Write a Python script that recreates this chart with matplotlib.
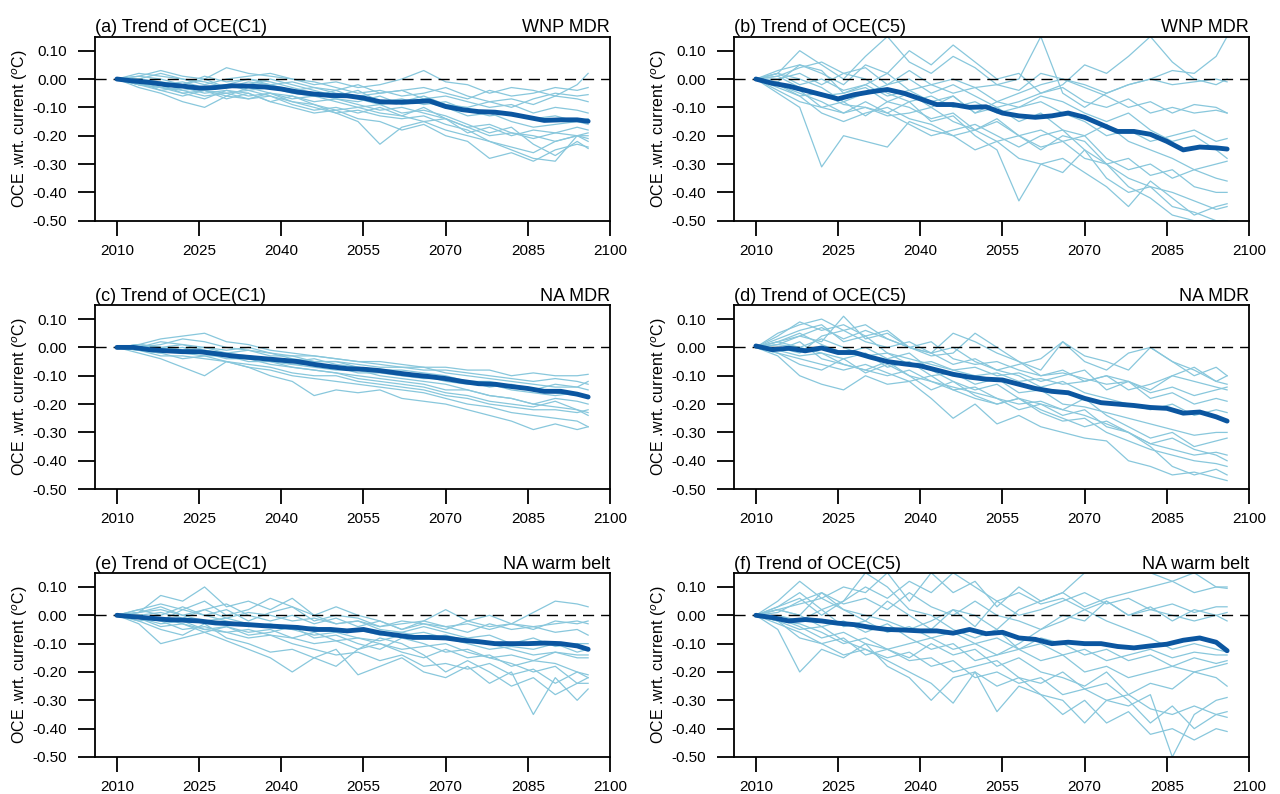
import matplotlib
matplotlib.use("Agg")
import matplotlib.pyplot as plt

plt.rcParams["font.family"] = ["Liberation Sans", "DejaVu Sans"]
plt.rcParams["mathtext.fontset"] = "custom"
plt.rcParams["mathtext.rm"] = "Liberation Sans"

THIN_COLOR = "#88c7dc"
MEAN_COLOR = "#0b56a0"

YEARS_MEAN = [2010, 2013, 2016, 2019, 2022, 2025, 2028, 2031, 2034, 2037, 2040, 2043,
              2046, 2049, 2052, 2055, 2058, 2061, 2064, 2067, 2070, 2073, 2076, 2079,
              2082, 2085, 2088, 2091, 2094, 2096]
YEARS_MEMBER = [2010, 2014, 2018, 2022, 2026, 2030, 2034, 2038, 2042, 2046, 2050, 2054,
                2058, 2062, 2066, 2070, 2074, 2078, 2082, 2086, 2090, 2094, 2096]

# ensemble means (thick line)
MEAN_A = [0.0, -0.007, -0.012, -0.02, -0.025, -0.032, -0.03, -0.024, -0.025, -0.028, -0.035, -0.046,
          -0.053, -0.058, -0.059, -0.067, -0.08, -0.082, -0.08, -0.077, -0.097, -0.108, -0.115, -0.117,
          -0.124, -0.135, -0.146, -0.144, -0.144, -0.149]
MEAN_B = [0.0, -0.015, -0.025, -0.04, -0.055, -0.07, -0.055, -0.045, -0.037, -0.05, -0.07, -0.09,
          -0.09, -0.1, -0.098, -0.12, -0.13, -0.135, -0.13, -0.12, -0.135, -0.16, -0.185, -0.185,
          -0.195, -0.22, -0.25, -0.24, -0.243, -0.247]
MEAN_C = [0.0, 0.0, -0.008, -0.012, -0.015, -0.015, -0.022, -0.03, -0.035, -0.04, -0.045, -0.05,
          -0.06, -0.068, -0.075, -0.077, -0.082, -0.09, -0.097, -0.103, -0.11, -0.12, -0.128, -0.13,
          -0.138, -0.145, -0.155, -0.155, -0.165, -0.175]
MEAN_D = [0.005, -0.008, -0.003, -0.012, -0.002, -0.018, -0.018, -0.035, -0.05, -0.058, -0.065, -0.08,
          -0.095, -0.105, -0.112, -0.115, -0.13, -0.145, -0.155, -0.16, -0.18, -0.195, -0.2, -0.205,
          -0.212, -0.215, -0.232, -0.228, -0.245, -0.26]
MEAN_E = [0.0, -0.005, -0.01, -0.015, -0.017, -0.02, -0.027, -0.03, -0.033, -0.037, -0.04, -0.043,
          -0.05, -0.05, -0.055, -0.05, -0.062, -0.07, -0.078, -0.078, -0.08, -0.088, -0.093, -0.1,
          -0.1, -0.1, -0.098, -0.1, -0.108, -0.12]
MEAN_F = [0.0, -0.008, -0.02, -0.015, -0.02, -0.028, -0.033, -0.043, -0.05, -0.052, -0.055, -0.055,
          -0.063, -0.05, -0.065, -0.06, -0.08, -0.085, -0.1, -0.095, -0.1, -0.1, -0.11, -0.115,
          -0.108, -0.102, -0.088, -0.08, -0.095, -0.125]

# individual members (thin lines)
MEMBERS_A = [
    [0, 0.01, 0.03, 0.01, 0.0, 0.04, 0.02, 0.01, 0.0, -0.02, -0.01, -0.03, -0.02, 0.0, 0.03, -0.01, -0.02, -0.05, -0.03, -0.04, -0.06, -0.02, 0.02],
    [0, -0.02, -0.04, -0.06, -0.04, -0.07, -0.05, -0.08, -0.1, -0.12, -0.11, -0.14, -0.15, -0.18, -0.16, -0.2, -0.22, -0.28, -0.26, -0.29, -0.25, -0.23, -0.24],
    [0, 0.0, -0.02, -0.01, -0.03, -0.02, -0.04, -0.03, -0.05, -0.06, -0.04, -0.07, -0.09, -0.08, -0.06, -0.09, -0.1, -0.08, -0.1, -0.07, -0.05, -0.06, -0.055],
    [0, -0.03, -0.05, -0.08, -0.1, -0.06, -0.07, -0.05, -0.08, -0.1, -0.12, -0.15, -0.23, -0.17, -0.15, -0.18, -0.2, -0.22, -0.24, -0.26, -0.22, -0.2, -0.22],
    [0, 0.01, 0.0, -0.02, 0.01, -0.01, 0.0, -0.02, -0.01, -0.03, -0.04, -0.02, -0.05, -0.04, -0.03, -0.05, -0.07, -0.04, -0.06, -0.05, -0.03, -0.04, -0.03],
    [0, -0.01, -0.03, -0.04, -0.06, -0.05, -0.04, -0.06, -0.08, -0.09, -0.11, -0.1, -0.12, -0.13, -0.1, -0.14, -0.17, -0.2, -0.19, -0.21, -0.19, -0.2, -0.21],
    [0, -0.02, -0.01, -0.04, -0.03, -0.02, 0.0, -0.01, -0.03, -0.05, -0.07, -0.08, -0.06, -0.09, -0.08, -0.1, -0.13, -0.12, -0.15, -0.17, -0.16, -0.15, -0.16],
    [0, -0.01, -0.04, -0.03, -0.05, -0.04, -0.06, -0.05, -0.07, -0.06, -0.08, -0.1, -0.09, -0.12, -0.11, -0.13, -0.16, -0.19, -0.17, -0.23, -0.27, -0.22, -0.245],
    [0, 0.0, -0.01, -0.02, 0.0, -0.03, -0.01, -0.02, -0.04, -0.03, -0.05, -0.06, -0.05, -0.04, -0.07, -0.06, -0.08, -0.1, -0.09, -0.12, -0.1, -0.11, -0.12],
    [0, -0.02, -0.03, -0.05, -0.04, -0.06, -0.03, -0.05, -0.06, -0.08, -0.07, -0.09, -0.11, -0.1, -0.12, -0.14, -0.19, -0.17, -0.2, -0.18, -0.19, -0.17, -0.18],
    [0, 0.02, 0.01, 0.0, -0.02, 0.0, 0.01, 0.02, 0.0, -0.01, -0.03, -0.05, -0.04, -0.06, -0.05, -0.03, -0.06, -0.08, -0.07, -0.09, -0.06, -0.07, -0.08],
    [0, -0.01, -0.02, -0.05, -0.07, -0.04, -0.05, -0.08, -0.06, -0.09, -0.12, -0.11, -0.13, -0.14, -0.13, -0.16, -0.18, -0.22, -0.25, -0.28, -0.29, -0.2, -0.19],
    [0, 0.0, 0.02, 0.0, -0.01, -0.03, -0.02, 0.0, -0.02, -0.04, -0.06, -0.04, -0.08, -0.07, -0.09, -0.08, -0.11, -0.13, -0.12, -0.14, -0.13, -0.15, -0.14],
    [0, -0.02, -0.03, -0.02, -0.04, -0.05, -0.07, -0.06, -0.09, -0.11, -0.1, -0.12, -0.1, -0.13, -0.15, -0.14, -0.17, -0.16, -0.19, -0.2, -0.22, -0.2, -0.2],
]
MEMBERS_B = [
    [0, 0.02, 0.1, 0.05, 0.0, 0.08, 0.15, 0.06, 0.02, 0.08, 0.04, -0.02, 0.0, 0.15, -0.05, -0.1, -0.05, -0.02, 0.0, 0.03, 0.02, 0.08, 0.15],
    [0, -0.05, -0.1, -0.31, -0.2, -0.22, -0.24, -0.15, -0.18, -0.2, -0.25, -0.22, -0.28, -0.3, -0.33, -0.25, -0.35, -0.4, -0.38, -0.45, -0.47, -0.5, -0.5],
    [0, 0.03, 0.05, 0.02, -0.02, 0.05, 0.02, 0.1, 0.05, 0.12, 0.06, 0.0, 0.02, -0.05, -0.02, 0.05, 0.02, 0.08, 0.15, 0.06, 0.0, -0.02, 0.0],
    [0, -0.02, -0.05, -0.08, -0.12, -0.1, -0.12, -0.08, -0.15, -0.13, -0.2, -0.25, -0.43, -0.3, -0.28, -0.33, -0.38, -0.45, -0.36, -0.42, -0.48, -0.45, -0.44],
    [0, -0.01, 0.05, 0.03, -0.05, -0.03, -0.08, -0.05, -0.1, -0.06, -0.12, -0.08, -0.05, -0.02, 0.0, -0.03, -0.06, -0.1, -0.08, -0.12, -0.09, -0.1, -0.12],
    [0, -0.03, -0.06, -0.12, -0.15, -0.12, -0.1, -0.14, -0.16, -0.2, -0.18, -0.22, -0.2, -0.24, -0.22, -0.28, -0.3, -0.35, -0.38, -0.4, -0.43, -0.46, -0.45],
    [0, 0.01, -0.03, -0.06, -0.05, -0.02, 0.02, -0.04, -0.08, -0.06, -0.12, -0.1, -0.15, -0.12, -0.18, -0.2, -0.16, -0.22, -0.25, -0.28, -0.32, -0.35, -0.36],
    [0, 0.02, 0.0, -0.03, -0.08, -0.05, -0.02, 0.03, -0.02, -0.05, -0.03, -0.08, -0.1, -0.06, -0.08, -0.12, -0.15, -0.12, -0.18, -0.22, -0.2, -0.25, -0.28],
    [0, -0.02, -0.04, -0.1, -0.08, -0.13, -0.08, -0.1, -0.14, -0.12, -0.18, -0.15, -0.2, -0.25, -0.2, -0.22, -0.3, -0.28, -0.34, -0.32, -0.38, -0.4, -0.4],
    [0, 0.0, 0.02, -0.02, 0.02, 0.0, -0.05, -0.08, -0.06, -0.1, -0.08, -0.12, -0.1, -0.08, -0.12, -0.15, -0.2, -0.18, -0.22, -0.2, -0.18, -0.22, -0.21],
    [0, -0.04, -0.08, -0.1, -0.12, -0.08, -0.12, -0.16, -0.2, -0.18, -0.16, -0.2, -0.24, -0.2, -0.18, -0.25, -0.3, -0.38, -0.42, -0.48, -0.5, -0.5, -0.5],
    [0, 0.01, 0.04, 0.06, 0.02, 0.04, -0.02, 0.0, -0.05, -0.02, -0.06, -0.1, -0.08, -0.05, -0.03, -0.08, -0.1, -0.07, -0.12, -0.1, -0.12, -0.11, -0.12],
    [0, -0.02, -0.06, -0.05, -0.09, -0.1, -0.13, -0.12, -0.1, -0.15, -0.18, -0.14, -0.2, -0.18, -0.22, -0.2, -0.28, -0.32, -0.3, -0.35, -0.32, -0.3, -0.29],
    [0, 0.02, -0.02, 0.0, -0.04, -0.02, -0.06, -0.04, -0.02, 0.0, -0.03, -0.02, -0.04, 0.02, 0.0, -0.02, -0.05, -0.02, 0.0, -0.02, -0.01, 0.0, -0.01],
]
MEMBERS_C = [
    [0, 0.01, 0.03, 0.04, 0.05, 0.02, 0.01, -0.01, -0.02, -0.03, -0.04, -0.05, -0.05, -0.06, -0.07, -0.07, -0.08, -0.08, -0.1, -0.09, -0.1, -0.1, -0.095],
    [0, -0.02, -0.04, -0.07, -0.1, -0.05, -0.07, -0.1, -0.12, -0.17, -0.15, -0.16, -0.15, -0.18, -0.19, -0.2, -0.22, -0.24, -0.26, -0.29, -0.27, -0.29, -0.28],
    [0, 0.0, -0.01, 0.0, -0.02, -0.03, -0.03, -0.05, -0.06, -0.07, -0.08, -0.08, -0.1, -0.11, -0.12, -0.13, -0.15, -0.17, -0.18, -0.2, -0.21, -0.22, -0.24],
    [0, 0.01, 0.0, 0.01, -0.01, -0.02, -0.01, -0.03, -0.03, -0.05, -0.05, -0.06, -0.07, -0.07, -0.08, -0.08, -0.09, -0.1, -0.11, -0.12, -0.11, -0.12, -0.13],
    [0, -0.01, -0.03, -0.03, -0.04, -0.05, -0.06, -0.07, -0.09, -0.1, -0.1, -0.12, -0.13, -0.14, -0.15, -0.17, -0.18, -0.2, -0.21, -0.22, -0.22, -0.23, -0.22],
    [0, 0.0, 0.02, 0.01, 0.0, -0.01, 0.0, -0.02, -0.03, -0.03, -0.04, -0.05, -0.06, -0.07, -0.07, -0.09, -0.1, -0.11, -0.12, -0.13, -0.14, -0.14, -0.15],
    [0, -0.01, -0.01, -0.02, -0.03, -0.03, -0.05, -0.05, -0.07, -0.08, -0.09, -0.1, -0.11, -0.12, -0.13, -0.15, -0.15, -0.17, -0.18, -0.2, -0.18, -0.19, -0.2],
    [0, 0.01, 0.0, -0.01, 0.0, -0.02, -0.03, -0.04, -0.05, -0.04, -0.06, -0.07, -0.08, -0.08, -0.09, -0.1, -0.12, -0.12, -0.14, -0.15, -0.16, -0.17, -0.17],
    [0, -0.01, -0.02, -0.01, -0.02, -0.04, -0.04, -0.06, -0.07, -0.08, -0.09, -0.11, -0.12, -0.13, -0.14, -0.16, -0.17, -0.19, -0.2, -0.21, -0.19, -0.22, -0.23],
    [0, 0.0, 0.01, 0.03, 0.02, 0.0, -0.01, -0.02, -0.04, -0.05, -0.05, -0.07, -0.08, -0.1, -0.1, -0.12, -0.13, -0.13, -0.15, -0.16, -0.17, -0.16, -0.18],
    [0, 0.01, 0.0, -0.02, -0.01, -0.03, -0.04, -0.04, -0.06, -0.06, -0.07, -0.09, -0.09, -0.1, -0.11, -0.11, -0.12, -0.14, -0.13, -0.15, -0.13, -0.14, -0.12],
    [0, -0.01, -0.02, -0.04, -0.03, -0.05, -0.07, -0.08, -0.1, -0.11, -0.12, -0.13, -0.14, -0.15, -0.16, -0.18, -0.2, -0.21, -0.23, -0.24, -0.25, -0.26, -0.28],
]
MEMBERS_D = [
    [0, 0.05, 0.08, 0.1, 0.06, 0.08, 0.03, 0.0, -0.02, 0.05, 0.02, -0.02, -0.05, -0.08, 0.02, -0.05, -0.08, -0.02, 0.0, -0.05, -0.08, -0.12, -0.1],
    [0, -0.03, -0.1, -0.13, -0.15, -0.1, -0.13, -0.12, -0.18, -0.25, -0.2, -0.27, -0.24, -0.28, -0.3, -0.32, -0.33, -0.4, -0.42, -0.45, -0.44, -0.46, -0.47],
    [0, 0.02, 0.04, 0.02, 0.11, 0.03, 0.05, 0.0, -0.03, -0.02, 0.05, 0.0, -0.05, -0.1, -0.08, -0.12, -0.1, -0.15, -0.13, -0.1, -0.12, -0.14, -0.15],
    [0, -0.01, 0.02, -0.04, -0.06, -0.08, -0.05, -0.1, -0.15, -0.12, -0.17, -0.2, -0.18, -0.23, -0.26, -0.25, -0.3, -0.33, -0.36, -0.38, -0.4, -0.41, -0.42],
    [0, 0.03, 0.06, 0.08, 0.02, 0.04, -0.02, -0.04, -0.06, -0.08, -0.1, -0.09, -0.12, -0.11, -0.13, -0.12, -0.1, -0.12, -0.15, -0.1, -0.07, -0.12, -0.13],
    [0, -0.02, -0.04, -0.06, -0.08, -0.06, -0.09, -0.12, -0.1, -0.15, -0.18, -0.2, -0.18, -0.22, -0.25, -0.28, -0.26, -0.3, -0.34, -0.32, -0.36, -0.38, -0.4],
    [0, 0.01, 0.0, 0.03, 0.0, -0.03, -0.02, -0.06, -0.05, -0.08, -0.07, -0.1, -0.09, -0.12, -0.1, -0.08, -0.15, -0.12, -0.18, -0.16, -0.2, -0.18, -0.19],
    [0, 0.02, 0.05, 0.01, -0.02, 0.0, -0.04, -0.02, -0.08, -0.12, -0.15, -0.13, -0.18, -0.2, -0.22, -0.18, -0.24, -0.28, -0.32, -0.3, -0.35, -0.33, -0.32],
    [0, 0.0, -0.02, 0.04, 0.06, 0.02, 0.0, 0.02, -0.02, 0.0, -0.05, -0.08, -0.06, -0.04, 0.02, -0.03, -0.05, -0.08, 0.0, -0.05, -0.1, -0.07, -0.1],
    [0, -0.02, -0.06, -0.08, -0.04, -0.09, -0.06, -0.1, -0.12, -0.15, -0.14, -0.18, -0.22, -0.2, -0.24, -0.22, -0.28, -0.3, -0.35, -0.42, -0.45, -0.43, -0.45],
    [0, 0.01, 0.04, 0.07, 0.03, 0.06, 0.03, 0.0, -0.02, -0.06, -0.04, -0.08, -0.1, -0.14, -0.12, -0.16, -0.18, -0.2, -0.22, -0.2, -0.24, -0.22, -0.23],
    [0, 0.02, 0.0, -0.02, -0.04, -0.02, -0.07, -0.05, -0.1, -0.09, -0.13, -0.11, -0.16, -0.15, -0.2, -0.21, -0.23, -0.25, -0.27, -0.29, -0.31, -0.3, -0.3],
    [0, 0.04, 0.09, 0.06, 0.08, 0.04, 0.06, 0.0, 0.02, -0.04, -0.06, -0.05, -0.08, -0.1, -0.09, -0.11, -0.13, -0.12, -0.16, -0.14, -0.17, -0.15, -0.14],
    [0, -0.01, -0.03, -0.02, -0.06, -0.08, -0.1, -0.08, -0.12, -0.14, -0.16, -0.18, -0.2, -0.19, -0.22, -0.24, -0.27, -0.3, -0.34, -0.36, -0.38, -0.37, -0.38],
]
MEMBERS_E = [
    [0, 0.01, 0.07, 0.05, 0.1, 0.03, 0.05, 0.02, 0.06, 0.0, 0.03, 0.0, -0.02, -0.05, -0.02, 0.02, -0.02, 0.0, -0.03, 0.01, 0.05, 0.04, 0.03],
    [0, -0.03, -0.1, -0.08, -0.06, -0.09, -0.12, -0.15, -0.2, -0.15, -0.12, -0.21, -0.18, -0.15, -0.2, -0.22, -0.18, -0.24, -0.2, -0.35, -0.22, -0.3, -0.26],
    [0, 0.02, 0.0, 0.03, 0.0, 0.02, -0.02, 0.01, 0.03, -0.02, 0.0, -0.01, -0.04, -0.02, -0.03, -0.05, -0.02, -0.04, -0.03, -0.05, -0.02, -0.03, -0.02],
    [0, -0.02, -0.05, -0.07, -0.03, -0.08, -0.1, -0.13, -0.12, -0.15, -0.18, -0.12, -0.08, -0.1, -0.14, -0.2, -0.16, -0.2, -0.25, -0.22, -0.28, -0.24, -0.24],
    [0, 0.0, -0.02, 0.02, 0.05, 0.0, 0.02, 0.06, 0.03, 0.0, -0.03, -0.02, -0.05, -0.06, -0.04, -0.06, -0.08, -0.07, -0.1, -0.08, -0.11, -0.1, -0.1],
    [0, -0.01, -0.03, -0.02, -0.05, -0.04, -0.06, -0.05, -0.08, -0.1, -0.09, -0.12, -0.1, -0.13, -0.15, -0.12, -0.15, -0.14, -0.18, -0.16, -0.17, -0.2, -0.22],
    [0, 0.01, 0.02, 0.0, -0.02, -0.01, -0.03, -0.04, -0.05, -0.04, -0.06, -0.05, -0.07, -0.06, -0.08, -0.07, -0.09, -0.1, -0.12, -0.14, -0.13, -0.14, -0.14],
    [0, -0.02, -0.01, -0.03, -0.06, -0.04, -0.07, -0.06, -0.04, -0.08, -0.07, -0.1, -0.12, -0.08, -0.1, -0.13, -0.12, -0.15, -0.17, -0.2, -0.18, -0.24, -0.22],
    [0, 0.01, 0.03, 0.0, 0.02, 0.04, 0.0, -0.02, 0.0, -0.03, -0.01, -0.04, -0.02, -0.05, -0.03, -0.04, -0.06, -0.03, -0.05, -0.04, -0.06, -0.05, -0.07],
    [0, -0.01, -0.04, -0.03, -0.05, -0.06, -0.05, -0.07, -0.08, -0.06, -0.09, -0.08, -0.1, -0.12, -0.11, -0.1, -0.13, -0.15, -0.14, -0.16, -0.13, -0.15, -0.15],
    [0, 0.0, 0.01, -0.01, 0.02, -0.01, 0.01, 0.0, -0.02, -0.01, -0.03, -0.02, -0.04, -0.03, -0.02, -0.04, -0.03, -0.05, -0.03, -0.04, -0.03, -0.02, -0.03],
    [0, -0.01, -0.02, -0.05, -0.04, -0.06, -0.08, -0.07, -0.1, -0.12, -0.14, -0.13, -0.16, -0.14, -0.18, -0.17, -0.19, -0.17, -0.21, -0.19, -0.24, -0.2, -0.21],
    [0, 0.02, 0.04, 0.02, 0.0, -0.02, -0.04, -0.03, -0.05, -0.07, -0.06, -0.08, -0.09, -0.07, -0.06, -0.08, -0.1, -0.12, -0.11, -0.12, -0.1, -0.13, -0.12],
]
MEMBERS_F = [
    [0, 0.05, 0.12, 0.06, 0.1, 0.08, 0.15, 0.05, 0.15, 0.08, 0.12, 0.03, 0.1, 0.05, 0.08, 0.15, 0.15, 0.15, 0.15, 0.12, 0.15, 0.1, 0.1],
    [0, -0.05, -0.2, -0.12, -0.15, -0.1, -0.18, -0.22, -0.3, -0.22, -0.2, -0.34, -0.25, -0.28, -0.3, -0.38, -0.3, -0.32, -0.28, -0.5, -0.35, -0.3, -0.29],
    [0, 0.02, 0.0, 0.08, 0.02, -0.02, 0.05, 0.0, -0.05, 0.02, 0.0, -0.05, 0.02, 0.05, 0.08, 0.03, 0.06, 0.08, 0.1, 0.12, 0.08, 0.1, 0.095],
    [0, -0.02, -0.08, -0.1, -0.14, -0.12, -0.16, -0.2, -0.24, -0.31, -0.2, -0.25, -0.22, -0.28, -0.35, -0.3, -0.38, -0.34, -0.42, -0.4, -0.44, -0.4, -0.41],
    [0, 0.03, 0.06, 0.0, 0.05, 0.15, 0.1, 0.02, 0.0, -0.05, -0.08, -0.05, -0.12, -0.08, -0.1, -0.14, -0.12, -0.16, -0.14, -0.18, -0.15, -0.17, -0.16],
    [0, -0.03, -0.06, -0.1, -0.08, -0.14, -0.12, -0.16, -0.15, -0.2, -0.18, -0.16, -0.22, -0.24, -0.2, -0.26, -0.3, -0.28, -0.33, -0.35, -0.32, -0.35, -0.36],
    [0, 0.02, 0.04, 0.06, 0.02, 0.0, -0.02, -0.05, -0.02, 0.02, -0.04, 0.05, 0.0, 0.02, 0.05, 0.08, 0.04, 0.06, 0.02, 0.04, 0.01, 0.03, 0.03],
    [0, -0.01, -0.04, -0.08, -0.06, -0.1, -0.12, -0.1, -0.08, -0.12, -0.1, -0.14, -0.12, -0.16, -0.14, -0.2, -0.18, -0.22, -0.2, -0.18, -0.2, -0.22, -0.25],
    [0, 0.01, 0.05, 0.08, 0.04, 0.06, 0.02, 0.08, 0.03, 0.0, 0.05, 0.0, -0.02, -0.05, 0.0, -0.02, 0.05, 0.0, 0.02, 0.0, -0.02, 0.0, -0.02],
    [0, -0.02, -0.03, -0.06, -0.1, -0.08, -0.12, -0.15, -0.1, -0.14, -0.12, -0.18, -0.15, -0.2, -0.22, -0.25, -0.2, -0.28, -0.24, -0.26, -0.2, -0.18, -0.17],
    [0, 0.0, -0.02, 0.02, -0.04, -0.02, -0.06, -0.04, -0.08, -0.06, -0.1, -0.08, -0.12, -0.1, -0.14, -0.12, -0.16, -0.14, -0.12, -0.15, -0.13, -0.14, -0.14],
    [0, 0.02, 0.0, -0.04, -0.02, -0.06, -0.03, -0.08, -0.12, -0.1, -0.16, -0.14, -0.1, -0.05, -0.02, 0.02, -0.02, -0.05, -0.08, -0.12, -0.1, -0.12, -0.13],
    [0, -0.02, -0.05, -0.04, -0.09, -0.12, -0.15, -0.13, -0.18, -0.16, -0.22, -0.2, -0.24, -0.22, -0.28, -0.26, -0.24, -0.3, -0.38, -0.32, -0.4, -0.35, -0.34],
    [0, 0.03, 0.08, 0.02, 0.05, 0.1, 0.06, 0.12, 0.08, 0.15, 0.1, 0.05, 0.08, 0.04, 0.06, 0.02, 0.05, 0.0, 0.03, -0.02, 0.02, 0.0, 0.01],
]

LEFT_TITLES = ["(a) Trend of OCE(C1)", "(b) Trend of OCE(C5)",
               "(c) Trend of OCE(C1)", "(d) Trend of OCE(C5)",
               "(e) Trend of OCE(C1)", "(f) Trend of OCE(C5)"]
RIGHT_TITLES = ["WNP MDR", "WNP MDR", "NA MDR", "NA MDR", "NA warm belt", "NA warm belt"]
X_TICKS = [2010, 2025, 2040, 2055, 2070, 2085, 2100]
Y_TICKS = [0.10, 0.00, -0.10, -0.20, -0.30, -0.40, -0.50]

PANELS = [
    (MEMBERS_A, MEAN_A), (MEMBERS_B, MEAN_B),
    (MEMBERS_C, MEAN_C), (MEMBERS_D, MEAN_D),
    (MEMBERS_E, MEAN_E), (MEMBERS_F, MEAN_F),
]

# axes positions in figure fractions [left, bottom, width, height]
COL_LEFT = [0.0742, 0.5734]
ROW_BOTTOM = [0.722, 0.384, 0.0466]
AX_W, AX_H = 0.4024, 0.232


def draw_panel(ax, members, mean, left_title, right_title):
    for m in members:
        ax.plot(YEARS_MEMBER, m, color=THIN_COLOR, lw=0.9, zorder=2)
    ax.axhline(0.0, color="black", lw=1.0, ls=(0, (8, 5)), zorder=3)
    ax.plot(YEARS_MEAN, mean, color=MEAN_COLOR, lw=3.5, solid_capstyle="round", zorder=4)
    ax.set_xlim(2006, 2100)
    ax.set_ylim(-0.5, 0.15)
    ax.set_xticks(X_TICKS)
    ax.set_yticks(Y_TICKS)
    ax.set_yticklabels([f"{v:.2f}" for v in Y_TICKS])
    ax.tick_params(axis="y", direction="out", length=12, width=1.3, labelsize=11, pad=8)
    ax.tick_params(axis="x", direction="out", length=11, width=1.3, labelsize=11, pad=5.5)
    for s in ax.spines.values():
        s.set_linewidth(1.3)
    ax.set_ylabel("OCE .wrt. current ($^{o}$C)", fontsize=11.5, labelpad=2)
    ax.set_title(left_title, loc="left", fontsize=13, pad=5)
    ax.set_title(right_title, loc="right", fontsize=13, pad=3)


fig = plt.figure(figsize=(12.8, 7.94), dpi=100)
for i, ((members, mean), lt, rt) in enumerate(zip(PANELS, LEFT_TITLES, RIGHT_TITLES)):
    row, col = divmod(i, 2)
    ax = fig.add_axes([COL_LEFT[col], ROW_BOTTOM[row], AX_W, AX_H])
    draw_panel(ax, members, mean, lt, rt)

fig.savefig("out.png", dpi=100)
